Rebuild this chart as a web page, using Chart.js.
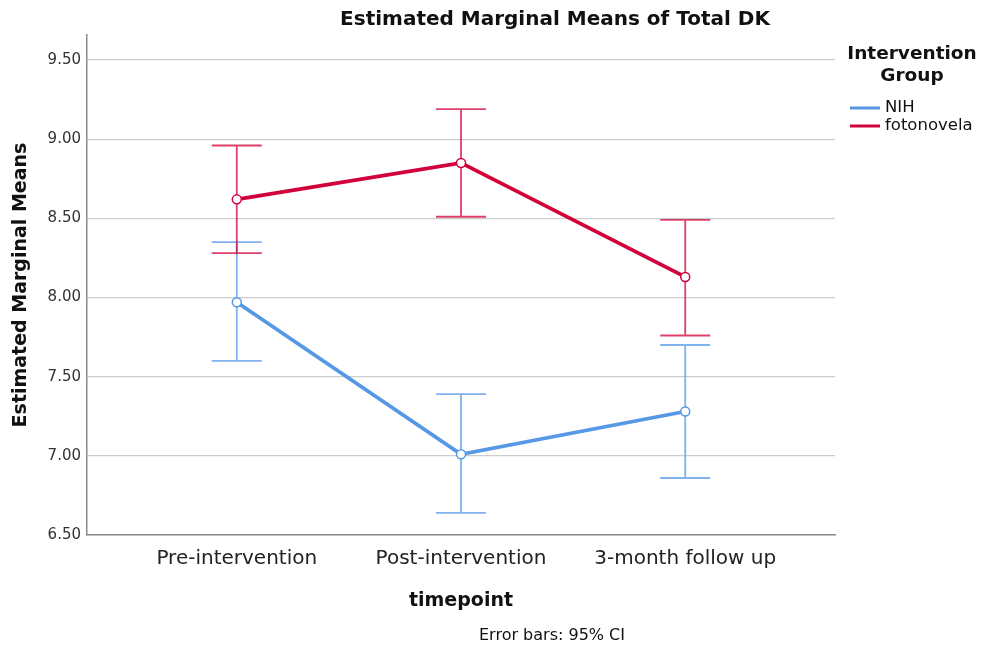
<!DOCTYPE html>
<html>
<head>
<meta charset="utf-8">
<script src="https://cdn.jsdelivr.net/npm/chart.js@4.4.1/dist/chart.umd.min.js"></script>
<style>
  body { margin: 0; background: #fff; }
  #wrap { width: 981px; height: 653px; }
</style>
</head>
<body>
<div id="wrap"><canvas id="myChart" width="981" height="653"></canvas></div>
<script>
// data
const categories = ['Pre-intervention', 'Post-intervention', '3-month follow up'];
const nihMean  = [7.97, 7.01, 7.28];
const nihLower = [7.60, 6.64, 6.86];
const nihUpper = [8.35, 7.39, 7.70];
const fotoMean  = [8.62, 8.85, 8.13];
const fotoLower = [8.28, 8.51, 7.76];
const fotoUpper = [8.96, 9.19, 8.49];
const yTicks = [6.5, 7.0, 7.5, 8.0, 8.5, 9.0, 9.5];

const BLUE = '#5698e6';
const RED = '#d2003a';
const FONT = "'DejaVu Sans', sans-serif";

const toPoints = (arr) => arr.map((v, i) => ({x: i, y: v}));

/////////////////////////
// error bars (95% CI) //
/////////////////////////
const errorBars = {
    id: 'errorBars',
    beforeDatasetsDraw(chart) {
        const ctx = chart.ctx;
        const xs = chart.scales.x, ys = chart.scales.y;
        chart.data.datasets.forEach((ds) => {
            ctx.save();
            ctx.strokeStyle = ds.barColor;
            ctx.lineWidth = 1.8;
            ds.lower.forEach((lo, i) => {
                const x = xs.getPixelForValue(i);
                const yl = ys.getPixelForValue(lo);
                const yu = ys.getPixelForValue(ds.upper[i]);
                ctx.beginPath();
                ctx.moveTo(x, yu); ctx.lineTo(x, yl);
                ctx.moveTo(x - 25, yu); ctx.lineTo(x + 25, yu);
                ctx.moveTo(x - 25, yl); ctx.lineTo(x + 25, yl);
                ctx.stroke();
            });
            ctx.restore();
        });
    }
};

//////////////////////////////////
// title, legend and footnote  //
//////////////////////////////////
const extras = {
    id: 'extras',
    afterDraw(chart) {
        const ctx = chart.ctx;
        ctx.save();
        ctx.fillStyle = '#111';
        ctx.textAlign = 'center';
        ctx.textBaseline = 'middle';
        ctx.font = 'bold 20px ' + FONT;
        ctx.fillText('Estimated Marginal Means of Total DK', 555, 20);

        ctx.font = 'bold 18.5px ' + FONT;
        ctx.fillText('Intervention', 912, 54);
        ctx.fillText('Group', 912, 76);

        ctx.textAlign = 'left';
        ctx.font = '16.5px ' + FONT;
        chart.data.datasets.forEach((ds, i) => {
            const y = 108 + i * 18;
            ctx.strokeStyle = ds.borderColor;
            ctx.lineWidth = 3;
            ctx.beginPath();
            ctx.moveTo(850, y); ctx.lineTo(880, y);
            ctx.stroke();
            ctx.fillStyle = '#111';
            ctx.fillText(ds.label, 885, y);
        });

        ctx.textAlign = 'center';
        ctx.font = '16px ' + FONT;
        ctx.fillText('Error bars: 95% CI', 552, 636);
        ctx.restore();
    }
};

new Chart('myChart', {
    type: 'line',
    data: {
        datasets: [
            {
                label: 'NIH',
                data: toPoints(nihMean),
                lower: nihLower, upper: nihUpper,
                borderColor: BLUE,
                barColor: 'rgba(86,152,230,0.75)',
                borderWidth: 3.8,
                pointRadius: 4.5,
                pointBorderWidth: 1.5,
                pointBackgroundColor: '#fff',
                pointBorderColor: BLUE
            },
            {
                label: 'fotonovela',
                data: toPoints(fotoMean),
                lower: fotoLower, upper: fotoUpper,
                borderColor: RED,
                barColor: 'rgba(210,0,58,0.75)',
                borderWidth: 3.8,
                pointRadius: 4.5,
                pointBorderWidth: 1.5,
                pointBackgroundColor: '#fff',
                pointBorderColor: RED
            }
        ]
    },
    options: {
        responsive: false,
        devicePixelRatio: 1,
        animation: false,
        layout: { padding: { top: 35, right: 146, left: 0, bottom: 0 } },
        plugins: { legend: { display: false }, title: { display: false }, tooltip: { enabled: false } },
        scales: {
            x: {
                type: 'linear',
                min: -0.668, max: 2.668,
                afterBuildTicks: (s) => { s.ticks = categories.map((c, i) => ({value: i})); },
                afterFit: (s) => { s.height = 118; },
                ticks: {
                    callback: (v) => categories[v],
                    font: { family: FONT, size: 20 },
                    color: '#222',
                    padding: 12,
                    maxRotation: 0,
                    autoSkip: false
                },
                grid: { display: false, drawTicks: false },
                border: { display: true, color: '#8a8a8a', width: 1.5 },
                title: {
                    display: true, text: 'timepoint',
                    font: { family: FONT, size: 19, weight: 'bold' },
                    color: '#111',
                    padding: { top: 0, bottom: 41 }
                }
            },
            y: {
                min: 6.5, max: 9.658,
                afterBuildTicks: (s) => { s.ticks = yTicks.map((v) => ({value: v})); },
                afterFit: (s) => { s.width = 87; },
                ticks: {
                    callback: (v) => Number(v).toFixed(2),
                    font: { family: FONT, size: 15 },
                    color: '#333',
                    padding: 6
                },
                grid: { color: '#cdcdcd', lineWidth: 1.2, drawTicks: false },
                border: { display: true, color: '#8a8a8a', width: 1.5 },
                title: {
                    display: true, text: 'Estimated Marginal Means',
                    font: { family: FONT, size: 19, weight: 'bold' },
                    color: '#111',
                    padding: { top: 10, bottom: 0 }
                }
            }
        }
    },
    plugins: [errorBars, extras]
});
</script>
</body>
</html>
